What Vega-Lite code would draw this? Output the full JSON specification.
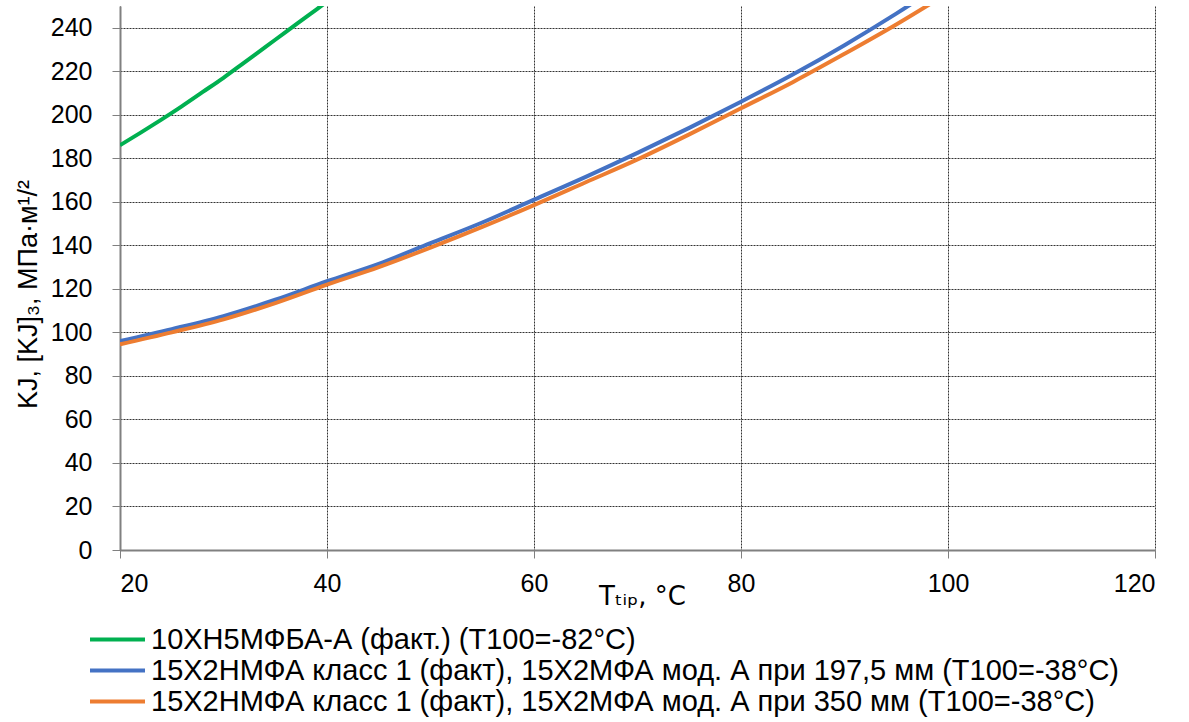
{
  "$schema": "https://vega.github.io/schema/vega-lite/v6.json",
  "autosize": "none",
  "width": 1035,
  "height": 544,
  "padding": {"left": 120, "top": 6, "right": 34, "bottom": 172},
  "background": "white",
  "config": {
    "view": {"stroke": null},
    "font": "Liberation Sans",
    "axis": {"labelFont": "Liberation Sans", "titleFont": "Liberation Sans"},
    "legend": {"labelFont": "Liberation Sans"}
  },
  "data": {
    "values": [
      {"s": "10ХН5МФБА-А (факт.) (Т100=-82°С)", "T": 20, "K": 186},
      {"s": "10ХН5МФБА-А (факт.) (Т100=-82°С)", "T": 22, "K": 191.8},
      {"s": "10ХН5МФБА-А (факт.) (Т100=-82°С)", "T": 24, "K": 197.8},
      {"s": "10ХН5МФБА-А (факт.) (Т100=-82°С)", "T": 26, "K": 204},
      {"s": "10ХН5МФБА-А (факт.) (Т100=-82°С)", "T": 28, "K": 210.5},
      {"s": "10ХН5МФБА-А (факт.) (Т100=-82°С)", "T": 30, "K": 217},
      {"s": "10ХН5МФБА-А (факт.) (Т100=-82°С)", "T": 32, "K": 224},
      {"s": "10ХН5МФБА-А (факт.) (Т100=-82°С)", "T": 34, "K": 231},
      {"s": "10ХН5МФБА-А (факт.) (Т100=-82°С)", "T": 36, "K": 238},
      {"s": "10ХН5МФБА-А (факт.) (Т100=-82°С)", "T": 38, "K": 245},
      {"s": "10ХН5МФБА-А (факт.) (Т100=-82°С)", "T": 40, "K": 252},
      {"s": "10ХН5МФБА-А (факт.) (Т100=-82°С)", "T": 42, "K": 259},
      {"s": "15Х2НМФА класс 1 (факт), 15Х2МФА мод. А при 197,5 мм (Т100=-38°С)", "T": 20, "K": 96},
      {"s": "15Х2НМФА класс 1 (факт), 15Х2МФА мод. А при 197,5 мм (Т100=-38°С)", "T": 25, "K": 101.5},
      {"s": "15Х2НМФА класс 1 (факт), 15Х2МФА мод. А при 197,5 мм (Т100=-38°С)", "T": 30, "K": 107.5},
      {"s": "15Х2НМФА класс 1 (факт), 15Х2МФА мод. А при 197,5 мм (Т100=-38°С)", "T": 35, "K": 115},
      {"s": "15Х2НМФА класс 1 (факт), 15Х2МФА мод. А при 197,5 мм (Т100=-38°С)", "T": 40, "K": 123.5},
      {"s": "15Х2НМФА класс 1 (факт), 15Х2МФА мод. А при 197,5 мм (Т100=-38°С)", "T": 45, "K": 131.5},
      {"s": "15Х2НМФА класс 1 (факт), 15Х2МФА мод. А при 197,5 мм (Т100=-38°С)", "T": 50, "K": 141},
      {"s": "15Х2НМФА класс 1 (факт), 15Х2МФА мод. А при 197,5 мм (Т100=-38°С)", "T": 55, "K": 150.5},
      {"s": "15Х2НМФА класс 1 (факт), 15Х2МФА мод. А при 197,5 мм (Т100=-38°С)", "T": 60, "K": 161},
      {"s": "15Х2НМФА класс 1 (факт), 15Х2МФА мод. А при 197,5 мм (Т100=-38°С)", "T": 65, "K": 171.5},
      {"s": "15Х2НМФА класс 1 (факт), 15Х2МФА мод. А при 197,5 мм (Т100=-38°С)", "T": 70, "K": 182.5},
      {"s": "15Х2НМФА класс 1 (факт), 15Х2МФА мод. А при 197,5 мм (Т100=-38°С)", "T": 75, "K": 194},
      {"s": "15Х2НМФА класс 1 (факт), 15Х2МФА мод. А при 197,5 мм (Т100=-38°С)", "T": 80, "K": 206},
      {"s": "15Х2НМФА класс 1 (факт), 15Х2МФА мод. А при 197,5 мм (Т100=-38°С)", "T": 85, "K": 218.5},
      {"s": "15Х2НМФА класс 1 (факт), 15Х2МФА мод. А при 197,5 мм (Т100=-38°С)", "T": 90, "K": 232},
      {"s": "15Х2НМФА класс 1 (факт), 15Х2МФА мод. А при 197,5 мм (Т100=-38°С)", "T": 95, "K": 246.5},
      {"s": "15Х2НМФА класс 1 (факт), 15Х2МФА мод. А при 197,5 мм (Т100=-38°С)", "T": 100, "K": 262},
      {"s": "15Х2НМФА класс 1 (факт), 15Х2МФА мод. А при 350 мм (Т100=-38°С)", "T": 20, "K": 94.5},
      {"s": "15Х2НМФА класс 1 (факт), 15Х2МФА мод. А при 350 мм (Т100=-38°С)", "T": 25, "K": 100},
      {"s": "15Х2НМФА класс 1 (факт), 15Х2МФА мод. А при 350 мм (Т100=-38°С)", "T": 30, "K": 106},
      {"s": "15Х2НМФА класс 1 (факт), 15Х2МФА мод. А при 350 мм (Т100=-38°С)", "T": 35, "K": 113.5},
      {"s": "15Х2НМФА класс 1 (факт), 15Х2МФА мод. А при 350 мм (Т100=-38°С)", "T": 40, "K": 122},
      {"s": "15Х2НМФА класс 1 (факт), 15Х2МФА мод. А при 350 мм (Т100=-38°С)", "T": 45, "K": 130},
      {"s": "15Х2НМФА класс 1 (факт), 15Х2МФА мод. А при 350 мм (Т100=-38°С)", "T": 50, "K": 139},
      {"s": "15Х2НМФА класс 1 (факт), 15Х2МФА мод. А при 350 мм (Т100=-38°С)", "T": 55, "K": 148.5},
      {"s": "15Х2НМФА класс 1 (факт), 15Х2МФА мод. А при 350 мм (Т100=-38°С)", "T": 60, "K": 158.5},
      {"s": "15Х2НМФА класс 1 (факт), 15Х2МФА мод. А при 350 мм (Т100=-38°С)", "T": 65, "K": 169},
      {"s": "15Х2НМФА класс 1 (факт), 15Х2МФА мод. А при 350 мм (Т100=-38°С)", "T": 70, "K": 179.5},
      {"s": "15Х2НМФА класс 1 (факт), 15Х2МФА мод. А при 350 мм (Т100=-38°С)", "T": 75, "K": 191},
      {"s": "15Х2НМФА класс 1 (факт), 15Х2МФА мод. А при 350 мм (Т100=-38°С)", "T": 80, "K": 203},
      {"s": "15Х2НМФА класс 1 (факт), 15Х2МФА мод. А при 350 мм (Т100=-38°С)", "T": 85, "K": 215},
      {"s": "15Х2НМФА класс 1 (факт), 15Х2МФА мод. А при 350 мм (Т100=-38°С)", "T": 90, "K": 228},
      {"s": "15Х2НМФА класс 1 (факт), 15Х2МФА мод. А при 350 мм (Т100=-38°С)", "T": 95, "K": 241.5},
      {"s": "15Х2НМФА класс 1 (факт), 15Х2МФА мод. А при 350 мм (Т100=-38°С)", "T": 100, "K": 256}
    ]
  },
  "mark": {"type": "line", "interpolate": "monotone", "clip": true, "strokeWidth": 4},
  "encoding": {
    "x": {
      "field": "T",
      "type": "quantitative",
      "scale": {"domain": [20, 120], "nice": false, "zero": false},
      "axis": {
        "values": [20, 40, 60, 80, 100, 120],
        "title": "Tₜᵢₚ, °C",
        "titleFont": "DejaVu Sans",
        "titleFontSize": 26,
        "titleFontWeight": "normal",
        "titleColor": "black",
        "titleBaseline": "alphabetic",
        "titleY": 54,
        "titleX": 522,
        "labelFontSize": 25,
        "labelColor": "black",
        "labelPadding": 13,
        "tickSize": 8,
        "tickColor": "#808080",
        "domainColor": "#808080",
        "domainWidth": 2,
        "grid": true,
        "gridColor": "#333333",
        "gridDash": [2, 1],
        "gridWidth": 1
      }
    },
    "y": {
      "field": "K",
      "type": "quantitative",
      "scale": {"domain": [0, 250], "nice": false},
      "axis": {
        "values": [0, 20, 40, 60, 80, 100, 120, 140, 160, 180, 200, 220, 240],
        "title": "KJ, [KJ]₃, МПа·м¹/²",
        "titleFontSize": 27,
        "titleFontWeight": "normal",
        "titleColor": "black",
        "titlePadding": 8,
        "titleY": 288,
        "labelFontSize": 25,
        "labelColor": "black",
        "labelPadding": 20,
        "tickSize": 8,
        "tickColor": "#808080",
        "domainColor": "#808080",
        "domainWidth": 2,
        "grid": true,
        "gridColor": "#333333",
        "gridDash": [2, 1],
        "gridWidth": 1
      }
    },
    "color": {
      "field": "s",
      "type": "nominal",
      "sort": null,
      "scale": {
        "domain": [
          "10ХН5МФБА-А (факт.) (Т100=-82°С)",
          "15Х2НМФА класс 1 (факт), 15Х2МФА мод. А при 197,5 мм (Т100=-38°С)",
          "15Х2НМФА класс 1 (факт), 15Х2МФА мод. А при 350 мм (Т100=-38°С)"
        ],
        "range": ["#00B050", "#4472C4", "#ED7D31"]
      },
      "legend": {
        "title": null,
        "orient": "none",
        "legendX": -17,
        "legendY": 619,
        "direction": "vertical",
        "symbolType": "M-5,0H5",
        "symbolSize": 121,
        "symbolStrokeWidth": 4,
        "labelFontSize": 29,
        "labelColor": "black",
        "labelOffset": 19,
        "labelLimit": 1200,
        "rowPadding": 1
      }
    }
  }
}
